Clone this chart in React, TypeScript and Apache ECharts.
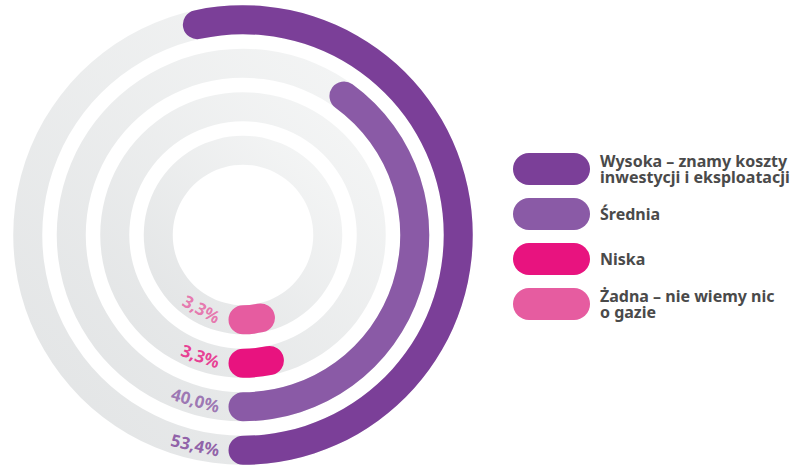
import React, { useEffect, useRef } from "react";
import * as echarts from "echarts";

const categories = ["Żadna – nie wiemy nic\no gazie", "Niska", "Średnia", "Wysoka – znamy koszty\ninwestycji i eksploatacji"];
const values = [3.3, 3.3, 40.0, 53.4];
const colors = ["#E65CA0", "#E8137F", "#8A5AA6", "#7B3F98"];
const legendOrder = [3, 2, 1, 0];
const trackMax = 100;

const fmt = (v: number) => v.toFixed(1).replace(".", ",") + "%";

export default function App() {
  const ref = useRef<HTMLDivElement>(null);
  useEffect(() => {
    if (!ref.current) return;
    const chart = echarts.init(ref.current, undefined, { renderer: "svg" });
    const font = "'Noto Sans', sans-serif";
    const labelSize = 17;
    const ctx = document.createElement("canvas").getContext("2d")!;
    ctx.font = `bold ${labelSize}px 'Noto Sans', sans-serif`;

    const center = [243, 235];
    const radius = [63, 237];
    const barWidth = 29;
    const band = (radius[1] - radius[0]) / categories.length;

    const angleAxis = (i: number) => ({
      polarIndex: i,
      type: "value",
      min: 0,
      max: 100,
      startAngle: 270,
      clockwise: false,
      show: false,
    });
    const radiusAxis = (i: number) => ({ polarIndex: i, type: "category", data: categories, show: false });

    const track = {
      type: "bar",
      coordinateSystem: "polar",
      polarIndex: 0,
      name: "track",
      data: categories.map(() => trackMax),
      barWidth,
      silent: true,
      z: 1,
      itemStyle: {
        color: new echarts.graphic.LinearGradient(1, 0, 0, 1, [
          { offset: 0, color: "#F6F7F7" },
          { offset: 1, color: "#E1E3E4" },
        ]),
      },
    };

    const bars = {
      type: "bar",
      coordinateSystem: "polar",
      polarIndex: 1,
      name: "values",
      data: values.map((v, i) => ({ value: v, itemStyle: { color: colors[i] } })),
      barWidth,
      roundCap: true,
      z: 3,
    };

    const labels = {
      type: "scatter",
      coordinateSystem: "polar",
      polarIndex: 1,
      name: "labels",
      symbolSize: 0,
      silent: true,
      z: 4,
      data: values.map((v, i) => {
        const r = radius[0] + band * (i + 0.5);
        const w = ctx.measureText(fmt(v)).width;
        const px = barWidth / 2 + 9 + w / 2;
        const deg = (px / r) * (180 / Math.PI);
        const angleVal = 100 - (deg / 360) * 100;
        return {
          value: [i, angleVal],
          label: {
            show: true,
            position: "inside",
            formatter: fmt(v),
            rotate: -deg,
            color: colors[i],
            fontFamily: font,
            fontWeight: "bold",
            fontSize: labelSize,
          },
        };
      }),
    };

    const legendSeries = categories.map((name, i) => ({
      type: "scatter",
      coordinateSystem: "polar",
      polarIndex: 1,
      name,
      data: [],
      itemStyle: { color: colors[i], opacity: 1 },
    }));

    chart.setOption({
      animation: false,
      backgroundColor: "#ffffff",
      polar: [
        { center, radius },
        { center, radius },
      ],
      angleAxis: [angleAxis(0), angleAxis(1)],
      radiusAxis: [radiusAxis(0), radiusAxis(1)],
      legend: {
        orient: "vertical",
        left: 513,
        top: 153,
        padding: 0,
        itemWidth: 77,
        itemHeight: 32,
        itemGap: 13,
        icon: "path://M16,0 H61 A16,16 0 0 1 61,32 H16 A16,16 0 0 1 16,0 Z",
        data: legendOrder.map((i) => categories[i]),
        itemStyle: { opacity: 1 },
        textStyle: {
          color: "#4A4A4A",
          fontFamily: font,
          fontWeight: "bold",
          fontSize: 16,
          lineHeight: 16,
          padding: [0, 0, 0, 5],
        },
        selectedMode: false,
      },
      series: [track, bars, labels, ...legendSeries],
    });
    return () => chart.dispose();
  }, []);
  return <div ref={ref} style={{ position: "fixed", left: 0, top: 0, width: 796, height: 467 }} />;
}
